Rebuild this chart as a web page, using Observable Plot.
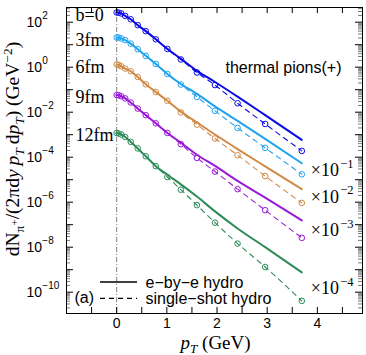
<!DOCTYPE html>
<html><head><meta charset="utf-8">
<script src="https://cdn.jsdelivr.net/npm/d3@7"></script>
<script src="https://cdn.jsdelivr.net/npm/@observablehq/plot@0.6"></script>
<style>body{margin:0;background:#fff} #chart{width:366px;height:355px}</style>
</head><body><div id="chart"></div>
<script>
// transverse momentum grid (GeV)
const pT = [0.0, 0.04, 0.09, 0.17, 0.28, 0.42, 0.58, 0.78, 1.01, 1.28, 1.6, 1.96, 2.41, 2.96, 3.69];
const seriesNames = ["b=0", "3fm", "6fm", "9fm", "12fm"];
const scaleExponents = [0, -1, -2, -3, -4];
const seriesColors = ["#0a0ae6", "#1fa3f0", "#d08a45", "#9a19d6", "#2e8b57"];

// single-shot hydro (dashed + circles), values as plotted (scale factor applied)
const single_b0  = [270, 265, 245, 190, 135, 74, 40, 17.4, 6.5, 2.2, 0.58, 0.16, 0.025, 0.0030, 1.9e-4];
const single_3fm = [21, 21, 19, 16, 11.2, 6.3, 3.2, 1.4, 0.50, 0.17, 0.048, 0.0115, 0.0020, 2.6e-4, 1.74e-5];
const single_6fm = [1.32, 1.26, 1.10, 0.87, 0.66, 0.37, 0.174, 0.079, 0.032, 0.0098, 0.0028, 6.8e-4, 1.23e-4, 1.45e-5, 9.3e-7];
const single_9fm = [0.058, 0.057, 0.051, 0.041, 0.027, 0.0145, 0.0074, 0.0032, 0.0012, 3.8e-4, 9.3e-5, 2.3e-5, 3.8e-6, 4.4e-7, 2.6e-8];
const single_12fm = [1.2e-3, 1.12e-3, 1.02e-3, 7.9e-4, 4.8e-4, 2.45e-4, 1.1e-4, 4.0e-5, 1.32e-5, 3.6e-6, 7.4e-7, 1.23e-7, 1.45e-8, 1.32e-9, 4.1e-11];

// e-by-e hydro (solid)
const ebye_b0  = [270, 265, 245, 190, 135, 74, 40, 17.4, 6.5, 2.35, 0.69, 0.22, 0.049, 0.0074, 5.9e-4];
const ebye_3fm = [21, 21, 19, 16, 11.2, 6.3, 3.2, 1.4, 0.50, 0.18, 0.065, 0.018, 0.0041, 6.5e-4, 5.4e-5];
const ebye_6fm = [1.32, 1.26, 1.10, 0.87, 0.66, 0.37, 0.174, 0.079, 0.032, 0.0107, 0.0035, 1.02e-3, 2.3e-4, 3.9e-5, 3.8e-6];
const ebye_9fm = [0.058, 0.057, 0.051, 0.041, 0.027, 0.0145, 0.0074, 0.0032, 0.0012, 4.4e-4, 1.29e-4, 4.1e-5, 8.9e-6, 1.6e-6, 1.55e-7];
const ebye_12fm = [1.2e-3, 1.12e-3, 1.02e-3, 7.9e-4, 4.8e-4, 2.45e-4, 1.1e-4, 4.0e-5, 1.66e-5, 6.2e-6, 1.78e-6, 3.9e-7, 6.8e-8, 1.0e-8, 7.6e-10];

// tick labels
const xTickLabels = [0, 1, 2, 3, 4];
const yTickExponents = [2, 0, -2, -4, -6, -8, -10];

const singleAll = [single_b0, single_3fm, single_6fm, single_9fm, single_12fm];
const ebyeAll = [ebye_b0, ebye_3fm, ebye_6fm, ebye_9fm, ebye_12fm];

const singleRows = [], ebyeRows = [];
seriesNames.forEach((s, i) => {
  pT.forEach((p, j) => {
    singleRows.push({series: s, pT: p, v: singleAll[i][j]});
    ebyeRows.push({series: s, pT: p, v: ebyeAll[i][j]});
  });
});
const firstPoints = seriesNames.map((s, i) => ({series: s, v: singleAll[i][0]}));
const lastPoints = seriesNames.map((s, i) => ({series: s, pT: pT[pT.length - 1], v: singleAll[i][pT.length - 1], e: scaleExponents[i]}));

const W = 366, H = 355, mL = 66, mR = 4, mT = 7, mB = 42;
const pw = W - mL - mR, ph = H - mT - mB;
const yDomain = [1.13e-11, 450];
const xDomain = [-1, 4.9];

const yMajor = d3.range(-10, 3).map(k => Math.pow(10, k));
const yMinor = [];
for (let k = -11; k <= 2; k++) for (let m = 2; m <= 9; m++) {
  const v = m * Math.pow(10, k);
  if (v > yDomain[0] && v < yDomain[1]) yMinor.push(v);
}
const xTicks = d3.range(-0.5, 4.75, 0.5);

const SANS = "Liberation Sans, Arial, sans-serif";
const SERIF = "Liberation Serif, Times New Roman, serif";
const fmtExp = e => (e < 0 ? "\u2212" + (-e) : String(e));

const scaleDy = [0, -4, -6, -7.5, -12.5];

const chart = Plot.plot({
  width: W, height: H,
  marginLeft: mL, marginRight: mR, marginTop: mT, marginBottom: mB,
  style: {fontFamily: SANS, fontSize: "14px", background: "white", color: "black"},
  x: {domain: xDomain, axis: null},
  y: {type: "log", domain: yDomain, axis: null},
  color: {domain: seriesNames, range: seriesColors},
  marks: [
    Plot.ruleX([0], {stroke: "#666", strokeWidth: 0.8, strokeDasharray: "5,2,1,2"}),
    Plot.line(ebyeRows, {x: "pT", y: "v", z: "series", stroke: "series", strokeWidth: 2, curve: "monotone-x"}),
    Plot.line(singleRows, {x: "pT", y: "v", z: "series", stroke: "series", strokeWidth: 1.1, strokeDasharray: "5,4.5", curve: "monotone-x"}),
    Plot.dot(singleRows, {x: "pT", y: "v", stroke: "series", r: 2.8, strokeWidth: 1, fill: "none"}),
    // inward ticks
    Plot.tickY(yMajor, {y: d => d, insetRight: pw - 7, stroke: "black"}),
    Plot.tickY(yMajor, {y: d => d, insetLeft: pw - 7, stroke: "black"}),
    Plot.tickY(yMinor, {y: d => d, insetRight: pw - 4, stroke: "#444", strokeWidth: 0.7}),
    Plot.tickY(yMinor, {y: d => d, insetLeft: pw - 4, stroke: "#444", strokeWidth: 0.7}),
    Plot.tickX(xTicks, {x: d => d, insetTop: ph - 6, stroke: "black"}),
    Plot.tickX(xTicks, {x: d => d, insetBottom: ph - 6, stroke: "black"}),
    Plot.frame({stroke: "black", strokeWidth: 1}),
    // y tick labels
    Plot.text(yTickExponents, {y: e => Math.pow(10, e), text: () => "10", frameAnchor: "left", dx: -40, dy: 0.5, textAnchor: "start", fontSize: 14}),
    Plot.text(yTickExponents, {y: e => Math.pow(10, e), text: e => fmtExp(e), frameAnchor: "left", dx: -24.2, dy: -6.5, textAnchor: "start", fontSize: 10}),
    // x tick labels
    Plot.text(xTickLabels, {x: d => d, text: d => String(d), frameAnchor: "bottom", dy: 14.5, fontSize: 14}),
    // series labels
    Plot.text(firstPoints, {y: "v", text: "series", frameAnchor: "left", dx: 9, dy: 2.5, textAnchor: "start", fontSize: 18, fontFamily: SERIF}),
    // scale factor labels
    ...[1, 2, 3, 4].map(i => Plot.text([lastPoints[i]], {x: d => d.pT, y: "v", text: () => "\u00d710", dx: 9, dy: scaleDy[i], textAnchor: "start", fontSize: 18, fontFamily: SERIF})),
    ...[1, 2, 3, 4].map(i => Plot.text([lastPoints[i]], {x: d => d.pT, y: "v", text: d => fmtExp(d.e), dx: 38.5, dy: scaleDy[i] - 6.5, textAnchor: "start", fontSize: 12.5, fontFamily: SERIF})),
    Plot.text(["thermal pions(+)"], {frameAnchor: "top-right", dx: -21, dy: 60, textAnchor: "end", lineAnchor: "middle", fontSize: 16}),
    Plot.text(["e\u2212by\u2212e hydro"], {frameAnchor: "bottom-left", dx: 79, dy: -31, textAnchor: "start", lineAnchor: "middle", fontSize: 16}),
    Plot.text(["single\u2212shot hydro"], {frameAnchor: "bottom-left", dx: 79, dy: -15, textAnchor: "start", lineAnchor: "middle", fontSize: 16}),
    Plot.text(["(a)"], {frameAnchor: "bottom-left", dx: 8, dy: -16, textAnchor: "start", lineAnchor: "middle", fontSize: 16})
  ]
});
document.getElementById("chart").appendChild(chart);

const svg = d3.select(chart);
// legend line samples
svg.append("line").attr("x1", 100).attr("x2", 137).attr("y1", 282).attr("y2", 282)
  .attr("stroke", "black").attr("stroke-width", 1.5);
svg.append("line").attr("x1", 100).attr("x2", 137).attr("y1", 298.3).attr("y2", 298.3)
  .attr("stroke", "black").attr("stroke-width", 1.2).attr("stroke-dasharray", "5,4");

function rich(textSel, parts, base) {
  let cur = 0;
  for (const p of parts) {
    const off = p.off || 0;
    const ts = textSel.append("tspan").text(p.t).attr("font-size", p.size || base);
    if (off !== cur) ts.attr("dy", off - cur);
    cur = off;
    if (p.it) ts.attr("font-style", "italic");
  }
}
// x axis label
const xl = svg.append("text").attr("x", 215.6).attr("y", 349).attr("text-anchor", "middle")
  .attr("font-family", SERIF).attr("fill", "black");
rich(xl, [{t: "p", it: true}, {t: "T", it: true, size: 13, off: 4}, {t: " (GeV)", off: 0}], 19);

// y axis label
const yl = svg.append("text").attr("transform", "translate(19,149) rotate(-90)").attr("text-anchor", "middle")
  .attr("font-family", SERIF).attr("fill", "black");
rich(yl, [
  {t: "dN"}, {t: "\u03c0", size: 13.5, off: 4.5}, {t: "+", size: 11, off: -1.5},
  {t: "/(2\u03c0d", off: 0}, {t: "y\u2009p", it: true}, {t: "T", it: true, size: 13.5, off: 4.5},
  {t: "\u2009d", off: 0}, {t: "p", it: true}, {t: "T", it: true, size: 13.5, off: 4.5},
  {t: ") (GeV", off: 0}, {t: "\u22122", size: 13.5, off: -7.5}, {t: ")", off: 0}
], 19.5);
</script>
</body></html>
